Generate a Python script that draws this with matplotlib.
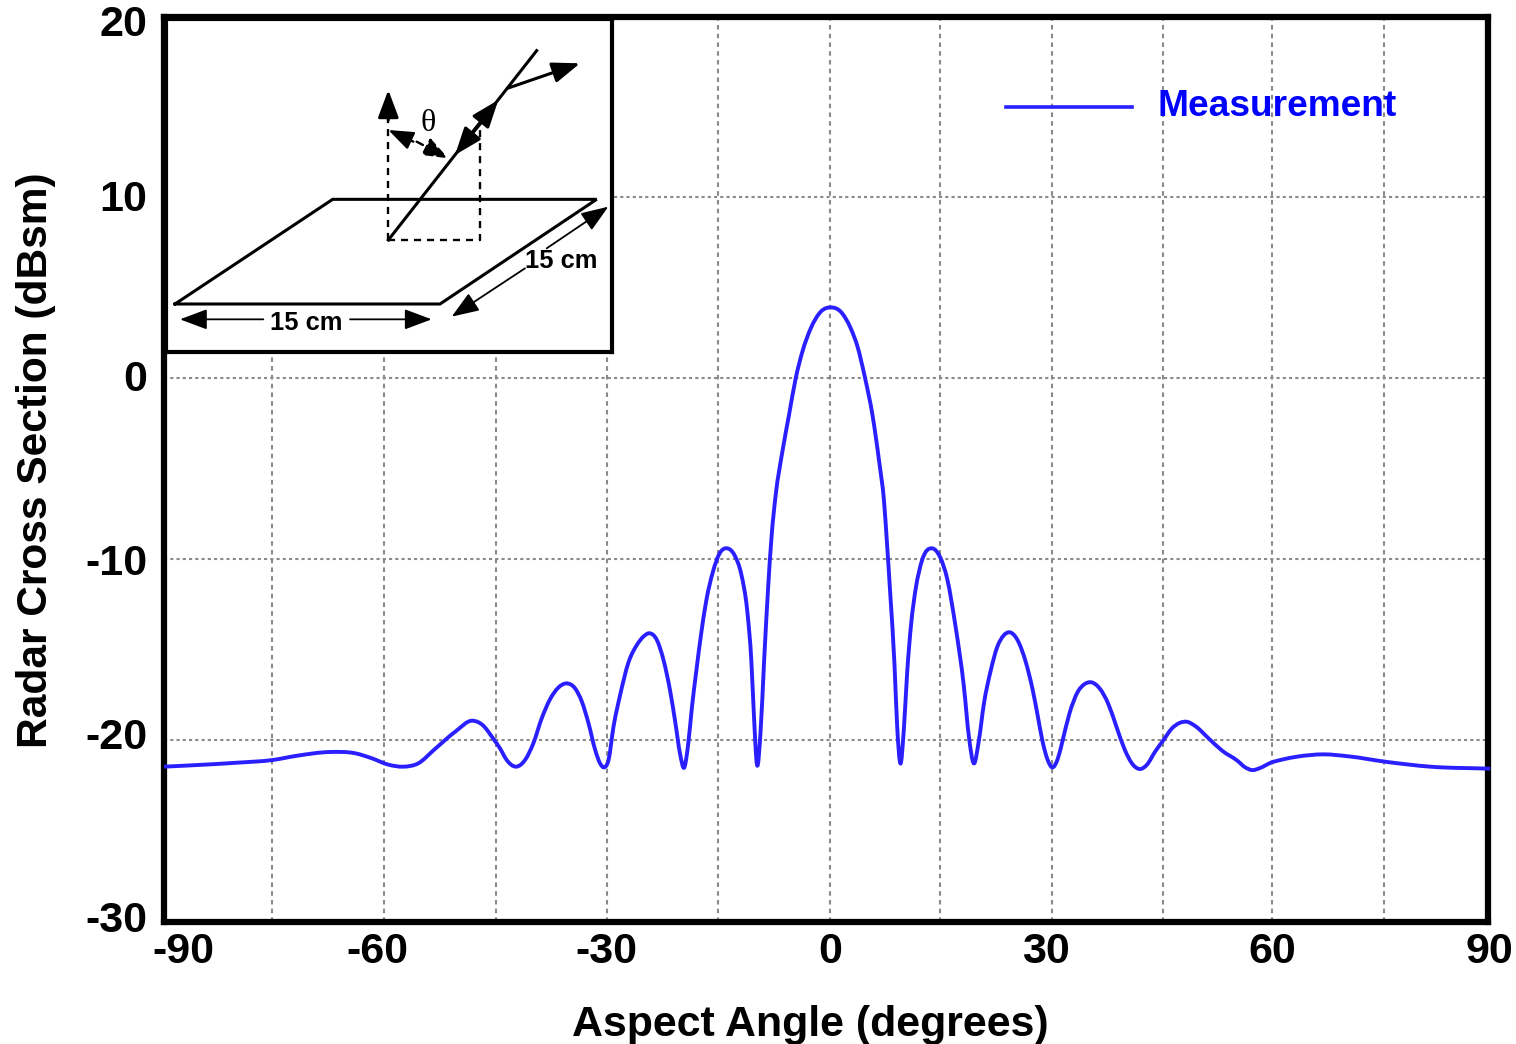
import matplotlib
matplotlib.use("Agg")
from matplotlib import pyplot as plt
from matplotlib.lines import Line2D
from matplotlib.patches import PathPatch
from matplotlib.path import Path
from matplotlib.transforms import ScaledTranslation
import numpy as np

# values
angle = [-89.9, -84.5, -80, -75.2, -72, -67.5, -64.1, -61.9, -59.6, -57.6, -55.6, -53.4, -50.6, -48.3, -46.9,
         -45.5, -44.55, -43.65, -42.39, -41.17, -40.05, -38.92, -37.8, -36.67, -35.54, -34.41, -33.5, -32.6,
         -31.7, -31.04, -30.5, -29.9, -29.23, -28.33, -27.2, -26.08, -25.18, -24.37, -23.38, -22.48, -21.58,
         -20.9, -20.23, -19.7, -19.2, -18.65, -18.06, -17.39, -16.71, -15.81, -14.91, -13.87, -12.88, -11.98,
         -11.17, -10.63, -10.27, -9.86, -9.37, -8.92, -8.38, -7.88, -7.34, -6.44, -5.54, -4.64, -3.74, -2.61,
         -1.26, 0.09, 1.44, 2.79, 3.69, 4.73, 5.72, 6.62, 7.3, 7.66, 8.15, 8.69, 9.05, 9.5, 9.95, 10.4, 10.95,
         11.53, 12.43, 13.78, 14.82, 15.81, 16.94, 18.06, 18.74, 19.41, 20.09, 20.77, 21.66, 22.57, 23.48, 24.29,
         25.29, 26.42, 27.33, 28.0, 28.69, 29.37, 30.0, 30.72, 31.4, 32.31, 33.44, 34.35, 35.26, 36.39, 37.52,
         38.65, 39.79, 40.92, 41.83, 42.73, 43.87, 45, 46.13, 47.26, 48.17, 49.3, 51.1, 52.93, 55, 56, 57, 58,
         59.5, 61, 63, 66.6, 70, 75, 81, 89.1]
rcs = [-21.47, -21.36, -21.25, -21.1, -20.87, -20.66, -20.73, -21.0, -21.36, -21.47, -21.29, -20.52, -19.54, -18.93,
       -19.17, -19.9, -20.46, -21.1, -21.47, -21.1, -20.18, -18.8, -17.75, -17.1, -16.87, -17.15, -17.88, -19.08,
       -20.55, -21.29, -21.51, -21.1, -19.26, -17.5, -15.7, -14.75, -14.28, -14.1, -14.47, -15.58, -17.3,
       -19.0, -20.8, -21.53, -20.4, -18.2, -16.2, -14.1, -12.3, -10.7, -9.69, -9.41, -9.8, -10.85,
       -12.9, -15.6, -18.7, -21.38, -19.45, -15.76, -11.71, -8.67, -6.46, -4.07, -2.04, -0.02, 1.45, 2.74,
       3.66, 3.9, 3.66, 2.74, 1.75, -0.02, -2.04, -4.6, -6.9, -9.0, -12.1, -15.8, -19.2, -21.3, -19.45, -16.3,
       -13.55, -11.71, -10.05, -9.41, -9.87, -11.1, -13.74, -17.05, -19.82, -21.29, -20.0, -17.97, -16.2, -14.85,
       -14.2, -14.05, -14.47, -15.7, -17.2, -18.6, -20.1, -21.1, -21.51, -21.05, -20.0, -18.53, -17.33, -16.91,
       -16.81, -17.15, -17.97, -19.26, -20.55, -21.38, -21.6, -21.38, -20.64, -20.0, -19.36, -19.04, -18.99, -19.23,
       -19.91, -20.59, -21.15, -21.5, -21.66, -21.55, -21.25, -21.08, -20.92, -20.79, -20.9, -21.2, -21.47, -21.58]

# the original's grid is not quite even
x_grid = [-75.3, -60.2, -45.1, -30.1, -15.1, 0, 14.9, 29.9, 44.9, 59.7, 74.7]
x_tick_labels = [-90, -60, -30, 0, 30, 60, 90]
y_tick_labels = [20, 10, 0, -10, -20, -30]
y_grid = [10, 0, -10, -20]
# the labels sit a bit off their ticks in the original (pixels)
x_shift = [19, -8, -1, 0, -6, -2, 1]
y_shift = [-3, 1, 2, 0, 7, 5]

# inset drawing, in its own coordinates
plate_x = [75, 870, 1340, 548, 75]
plate_y = [882, 882, 568, 568, 882]

W, H = 1516, 1044
BLUE = "#2a1fff"
XMIN, XMAX = -89.9, 88.8
YMIN, YMAX = -30.05, 19.94

plt.rcParams['font.family'] = ['Liberation Sans', 'DejaVu Sans']
fig = plt.figure(figsize=(W / 100, H / 100), dpi=100)
ax = fig.add_axes([164 / W, 1 - 922 / H, (1488 - 164) / W, (922 - 17) / H])

for g in x_grid:
    ax.axvline(g, color="#8a8a8a", lw=1.5, ls=(0, (2.2, 2)), zorder=1)
for g in y_grid:
    ax.axhline(g, color="#8a8a8a", lw=1.5, ls=(0, (1.5, 1.5)), zorder=1)


def smooth_path(xs, ys):
    # bezier through the read points, so the line has no corners at them
    xs = np.asarray(xs, float)
    ys = np.asarray(ys, float)
    h = np.diff(xs)
    d = np.diff(ys) / h
    m = np.zeros(len(xs))
    m[1:-1] = (h[:-1] * d[1:] + h[1:] * d[:-1]) / (h[:-1] + h[1:])
    m[0], m[-1] = d[0], d[-1]
    verts = [(xs[0], ys[0])]
    codes = [Path.MOVETO]
    for i in range(len(h)):
        verts += [(xs[i] + h[i] / 3, ys[i] + m[i] * h[i] / 3),
                  (xs[i + 1] - h[i] / 3, ys[i + 1] - m[i + 1] * h[i] / 3),
                  (xs[i + 1], ys[i + 1])]
        codes += [Path.CURVE4] * 3
    return Path(verts, codes)


ax.add_patch(PathPatch(smooth_path(angle, rcs), fill=False, edgecolor=BLUE, lw=2.8, zorder=3, clip_on=False,
                       joinstyle="round", capstyle="butt"))

for s in ax.spines.values():
    s.set_linewidth(4.5)
    s.set_zorder(2.5)

# -90, 90 and 20 fall just outside the axes of the original, so they hang on the ends
ax.set_xticks([XMIN, -60, -30, 0, 30, 60, XMAX])
ax.set_xticklabels([str(t) for t in x_tick_labels], fontsize=31, fontweight="bold")
ax.set_yticks([YMAX, 10, 0, -10, -20, -30])
ax.set_yticklabels([str(t) for t in y_tick_labels], fontsize=31, fontweight="bold")
ax.set_xlim(XMIN, XMAX)
ax.set_ylim(YMIN, YMAX)
ax.tick_params(length=0, axis="x", pad=7)
ax.tick_params(length=0, axis="y", pad=12)
for lab, dx in zip(ax.get_xticklabels(), x_shift):
    lab.set_transform(lab.get_transform() + ScaledTranslation(dx / 100, 0, fig.dpi_scale_trans))
for lab, dy in zip(ax.get_yticklabels(), y_shift):
    lab.set_transform(lab.get_transform() + ScaledTranslation(0, dy / 100, fig.dpi_scale_trans))

fig.text(810 / W, 1 - 1025 / H, "Aspect Angle (degrees)", fontsize=30.9, fontweight="bold", ha="center", va="center")
fig.text(36 / W, 1 - 460 / H, "Radar Cross Section (dBsm)", fontsize=30.6, fontweight="bold", rotation=90,
         ha="center", va="center")

handle = Line2D([], [], color=BLUE, lw=2.6, label="Measurement")
leg = ax.legend(handles=[handle], loc="upper left", bbox_to_anchor=(1006 / W, 1 - 89 / H),
                bbox_transform=fig.transFigure, frameon=False, prop={"size": 26.7, "weight": "bold"},
                labelcolor="#0000ff", handlelength=3.4, handletextpad=0.68, borderpad=0, borderaxespad=0)
h = leg.get_lines()[0]
h.set_transform(h.get_transform() + ScaledTranslation(0, -4 / 100, fig.dpi_scale_trans))

# inset
ins = fig.add_axes([166 / W, 1 - 352 / H, (612 - 166) / W, (352 - 19) / H], zorder=5)
ins.set_xlim(48, 1386)
ins.set_ylim(1026, 27)
ins.set_xticks([])
ins.set_yticks([])
for s in ins.spines.values():
    s.set_linewidth(3)

ins.plot(plate_x, plate_y, color="black", lw=2.2, solid_joinstyle="miter")
ins.plot([715, 1160], [690, 122], color="black", lw=2.2)
ins.plot([715, 715], [690, 300], color="black", lw=1.7, ls=(0, (3, 2.5)))
ins.plot([715, 990, 990], [690, 690, 360], color="black", lw=1.7, ls=(0, (3, 2.5)))

HEAD = "-|>,head_length=0.4,head_width=0.15"


def arrow(a, b, lw=2.2, ls="-", scale=42):
    ins.annotate("", xy=b, xytext=a, arrowprops=dict(arrowstyle=HEAD, color="black", lw=lw, ls=ls,
                                                     mutation_scale=scale, shrinkA=0, shrinkB=0))


arrow((1072, 235), (1290, 160))
arrow((715, 330), (715, 240))
arrow((940, 400), (1045, 270))
arrow((1000, 330), (915, 435))
arrow((800, 395), (895, 445), lw=1.7, ls=(0, (3, 2)), scale=38)
arrow((790, 395), (715, 360), lw=1.7, scale=38)
arrow((340, 928), (90, 928), lw=1.3)
arrow((600, 928), (845, 928), lw=1.3)
arrow((1190, 715), (1375, 590), lw=1.3)
arrow((1125, 775), (905, 920), lw=1.3)

ins.text(470, 938, "15 cm", fontsize=18.4, fontweight="bold", ha="center", va="center")
ins.text(1235, 752, "15 cm", fontsize=18.4, fontweight="bold", ha="center", va="center")
ins.text(833, 341, "θ", fontsize=23, family=["Liberation Serif", "DejaVu Serif"], ha="center", va="center")

fig.savefig("out.png", dpi=100)
